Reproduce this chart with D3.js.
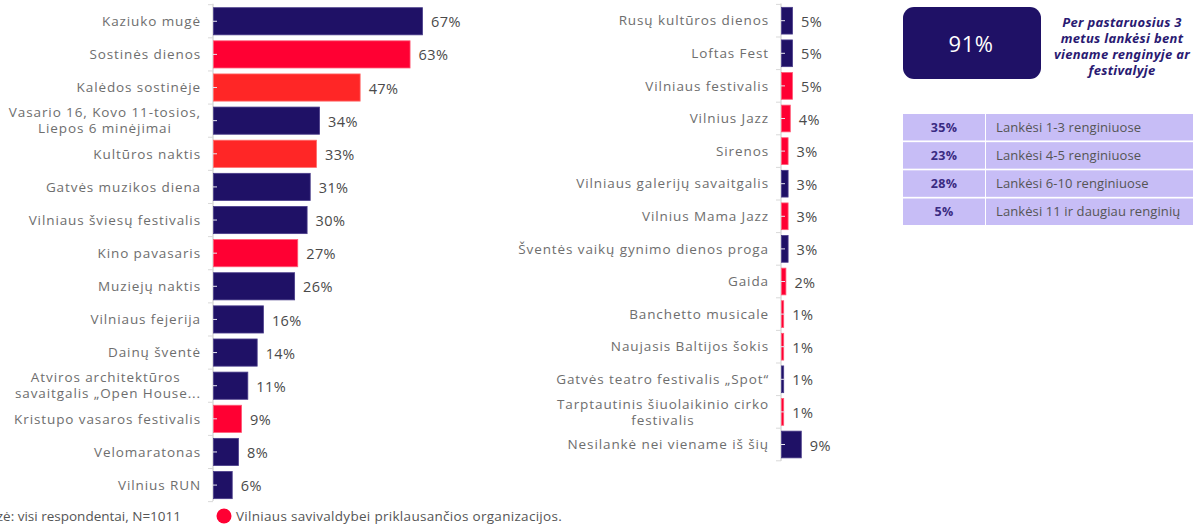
<!DOCTYPE html>
<html><head><meta charset="utf-8">
<script src="https://cdn.jsdelivr.net/npm/d3@7"></script>
<style>
body{margin:0;background:#fff;}
svg{display:block;}
</style></head>
<body>
<svg id="chart" width="1193" height="524"></svg>
<script>
// ---- data ----
const leftCategories = [
  ["Kaziuko mugė"],
  ["Sostinės dienos"],
  ["Kalėdos sostinėje"],
  ["Vasario 16, Kovo 11-tosios,", "Liepos 6 minėjimai"],
  ["Kultūros naktis"],
  ["Gatvės muzikos diena"],
  ["Vilniaus šviesų festivalis"],
  ["Kino pavasaris "],
  ["Muziejų naktis"],
  ["Vilniaus fejerija"],
  ["Dainų šventė"],
  ["Atviros architektūros ", "savaitgalis „Open House..."],
  ["Kristupo vasaros festivalis"],
  ["Velomaratonas"],
  ["Vilnius RUN"]
];
const leftValues = [67, 63, 47, 34, 33, 31, 30, 27, 26, 16, 14, 11, 9, 8, 6];
const leftGroups = ["n","r","o","n","o","n","n","r","n","n","n","n","r","n","n"];

const rightCategories = [
  ["Rusų kultūros dienos"],
  ["Loftas Fest "],
  ["Vilniaus festivalis"],
  ["Vilnius Jazz"],
  ["Sirenos"],
  ["Vilniaus galerijų savaitgalis"],
  ["Vilnius Mama Jazz"],
  ["Šventės vaikų gynimo dienos proga"],
  ["Gaida"],
  ["Banchetto musicale "],
  ["Naujasis Baltijos šokis"],
  ["Gatvės teatro festivalis „Spot“"],
  ["Tarptautinis šiuolaikinio cirko", "festivalis"],
  ["Nesilankė nei viename iš šių"]
];
const rightValues = [5, 5, 5, 4, 3, 3, 3, 3, 2, 1, 1, 1, 1, 9];
const rightGroups = ["n","n","r","r","r","n","r","n","r","r","r","n","r","n"];

const totalValue = "91%";
const totalCaption = ["Per pastaruosius 3", "metus lankėsi bent", "viename renginyje ar", "festivalyje"];
const freqValues = ["35%", "23%", "28%", "5%"];
const freqLabels = ["Lankėsi 1-3 renginiuose", "Lankėsi 4-5 renginiuose", "Lankėsi 6-10 renginiuose", "Lankėsi 11 ir daugiau renginių"];
const baseNote = "Bazė: visi respondentai, N=1011";
const legendLabel = "Vilniaus savivaldybei priklausančios organizacijos.";

// ---- styles ----
const colors = {n: "#1f1166", r: "#ff0033", o: "#ff2626"};
const strokes = {n: "#4a3d8a", r: "#ff5a76", o: "#ff6a6a"};
const labelFont = "'Open Sans', sans-serif";
const svg = d3.select("#chart");

function drawPanel(opts) {
  const {cats, vals, groups, x0, pxPerPct, yTop, step, axisBottom} = opts;
  const n = cats.length;
  const y = d3.scaleBand().domain(d3.range(n)).range([yTop, yTop + n * step])
    .paddingInner(0.18).paddingOuter(0.09);
  const x = d3.scaleLinear().domain([0, 100]).range([x0, x0 + 100 * pxPerPct]);
  const g = svg.append("g");

  g.append("line").attr("x1", x0).attr("x2", x0)
    .attr("y1", yTop - 1).attr("y2", axisBottom)
    .attr("stroke", "#d6d6d6").attr("stroke-width", 1.3);
  const bounds = d3.range(n + 1).map(i => yTop + i * step);
  g.selectAll("line.bt").data(bounds).join("line").attr("class", "bt")
    .attr("x1", x0 - 5).attr("x2", x0).attr("y1", d => d).attr("y2", d => d)
    .attr("stroke", "#d9d9d9").attr("stroke-width", 1);

  g.selectAll("rect.bar").data(vals).join("rect").attr("class", "bar")
    .attr("x", x0 + 0.5).attr("y", (d, i) => y(i))
    .attr("width", d => Math.max(0, x(d) - x0))
    .attr("height", y.bandwidth())
    .attr("fill", (d, i) => colors[groups[i]])
    .attr("stroke", (d, i) => strokes[groups[i]]).attr("stroke-width", 0.8);

  const axis = d3.axisLeft(y).tickSize(-4).tickFormat("").tickSizeOuter(0);
  const ag = g.append("g").attr("transform", `translate(${x0},0)`).call(axis);
  ag.select(".domain").remove();
  ag.selectAll(".tick line").attr("stroke", "#e6e6f0").attr("stroke-width", 1);

  cats.forEach((lines, i) => {
    const cy = y(i) + y.bandwidth() / 2;
    const t = g.append("text").attr("font-family", labelFont).attr("font-size", 13.5)
      .attr("letter-spacing", "0.9px").attr("fill", "#6e6e6e");
    const lh = 16;
    const startY = cy - (lines.length - 1) * lh / 2;
    lines.forEach((ln, k) => {
      t.append("tspan").attr("y", startY + k * lh).attr("dy", "0.35em").text(ln);
    });
    const tspans = t.selectAll("tspan").nodes();
    const widths = tspans.map(s => s.getComputedTextLength());
    const maxW = d3.max(widths);
    const right = x0 - 12;
    tspans.forEach((s) => {
      d3.select(s).attr("x", right - maxW / 2).attr("text-anchor", "middle");
    });
  });

  g.selectAll("text.val").data(vals).join("text").attr("class", "val")
    .attr("x", d => x(d) + 9)
    .attr("y", (d, i) => y(i) + y.bandwidth() / 2 + 1)
    .attr("dy", "0.35em")
    .attr("font-family", labelFont).attr("font-size", 14.5)
    .attr("letter-spacing", "0.4px")
    .attr("fill", "#4a4a4a")
    .text(d => d + "%");
}

drawPanel({cats: leftCategories, vals: leftValues, groups: leftGroups,
  x0: 213, pxPerPct: 3.12, yTop: 4.7, step: 33.13, axisBottom: 501});
drawPanel({cats: rightCategories, vals: rightValues, groups: rightGroups,
  x0: 781, pxPerPct: 2.2, yTop: 4.4, step: 32.6, axisBottom: 461});

// ---- right info panel ----
const info = svg.append("g");
info.append("rect").attr("x", 903).attr("y", 7).attr("width", 138).attr("height", 72)
  .attr("rx", 11).attr("fill", "#1f1166");
info.append("text").attr("x", 971).attr("y", 44).attr("dy", "0.35em")
  .attr("text-anchor", "middle").attr("font-family", labelFont).attr("font-size", 22)
  .attr("letter-spacing", "0.5px")
  .attr("fill", "#ffffff").text(totalValue);
const cap = info.append("text").attr("text-anchor", "middle")
  .attr("font-family", "'Noto Sans', sans-serif").attr("font-size", 13)
  .attr("letter-spacing", "0.3px")
  .attr("font-weight", "bold").attr("font-style", "italic").attr("fill", "#2a1a72");
totalCaption.forEach((ln, k) => {
  cap.append("tspan").attr("x", 1122).attr("y", 26.5 + k * 16).text(ln);
});

const rowY = d3.scaleBand().domain(d3.range(freqValues.length)).range([114, 225]).paddingInner(0.06);
const rows = info.selectAll("g.row").data(freqValues).join("g").attr("class", "row");
rows.append("rect").attr("x", 903).attr("y", (d, i) => rowY(i))
  .attr("width", 82).attr("height", rowY.bandwidth()).attr("fill", "#c7bdf6");
rows.append("rect").attr("x", 986).attr("y", (d, i) => rowY(i))
  .attr("width", 207).attr("height", rowY.bandwidth()).attr("fill", "#c7bdf6");
rows.append("text").attr("x", 944).attr("y", (d, i) => rowY(i) + rowY.bandwidth() / 2)
  .attr("dy", "0.35em").attr("text-anchor", "middle")
  .attr("font-family", labelFont).attr("font-size", 12.5).attr("font-weight", "bold")
  .attr("letter-spacing", "0.3px")
  .attr("fill", "#3a2b82").text(d => d);
rows.append("text").attr("x", 996).attr("y", (d, i) => rowY(i) + rowY.bandwidth() / 2)
  .attr("dy", "0.35em")
  .attr("font-family", labelFont).attr("font-size", 13).attr("letter-spacing", "0.1px")
  .attr("fill", "#555555").text((d, i) => freqLabels[i]);

// ---- footer ----
svg.append("text").attr("x", 181).attr("y", 516).attr("dy", "0.35em")
  .attr("text-anchor", "end").attr("font-family", labelFont).attr("font-size", 13.5)
  .attr("fill", "#555").text(baseNote);
svg.append("circle").attr("cx", 224).attr("cy", 516).attr("r", 7.5).attr("fill", "#ff0033");
svg.append("text").attr("x", 236).attr("y", 516).attr("dy", "0.35em")
  .attr("font-family", labelFont).attr("font-size", 13.5)
  .attr("letter-spacing", "0.3px")
  .attr("fill", "#555").text(legendLabel);
</script>
</body></html>
